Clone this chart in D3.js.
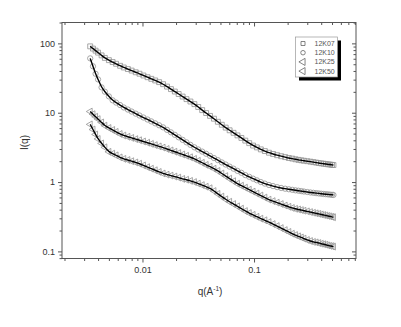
<!DOCTYPE html>
<html>
<head>
<meta charset="utf-8">
<script src="https://cdnjs.cloudflare.com/ajax/libs/d3/7.8.5/d3.min.js"></script>
<style>
  body { margin: 0; background: #fff; }
  svg { display: block; font-family: "Liberation Sans", Arial, sans-serif; }
</style>
</head>
<body>
<script>
// scattering vector, shared by all samples
const q = [0.0034, 0.0036, 0.0038, 0.0040, 0.0043, 0.0046, 0.0050, 0.0054, 0.0058, 0.0063,
  0.0068, 0.0074, 0.0080, 0.0087, 0.0094, 0.0102, 0.0111, 0.0120, 0.0130, 0.0141,
  0.0153, 0.0166, 0.0180, 0.0195, 0.0211, 0.0229, 0.0248, 0.0269, 0.0292, 0.0316,
  0.0343, 0.0372, 0.0403, 0.0437, 0.0474, 0.0514, 0.0557, 0.0604, 0.0655, 0.0710,
  0.0770, 0.0835, 0.0905, 0.098, 0.106, 0.115, 0.125, 0.136, 0.148, 0.161,
  0.175, 0.19, 0.205, 0.22, 0.235, 0.25, 0.265, 0.28, 0.30, 0.32,
  0.34, 0.36, 0.38, 0.40, 0.42, 0.44, 0.46, 0.48, 0.50, 0.515];

// intensities
const i12K07 = [90.6, 84.1, 78.5, 73.6, 67.1, 61.7, 57.3, 53.8, 50.8, 47.5,
  44.9, 42.6, 40.5, 38.3, 36.5, 34.4, 32.5, 30.8, 29.2, 27.6,
  25.8, 23.8, 21.9, 20.2, 18.6, 17.1, 15.7, 14.5, 13.3, 12.1,
  10.9, 9.9, 9.0, 8.2, 7.4, 6.7, 6.1, 5.58, 5.13, 4.71,
  4.33, 3.96, 3.64, 3.36, 3.16, 2.96, 2.80, 2.65, 2.54, 2.44,
  2.36, 2.29, 2.22, 2.18, 2.13, 2.09, 2.06, 2.03, 2.00, 1.97,
  1.94, 1.91, 1.88, 1.86, 1.84, 1.82, 1.80, 1.79, 1.77, 1.76];
const i12K10 = [60.8, 46.7, 36.4, 30.2, 23.2, 20.1, 17.2, 15.1, 14.0, 12.9,
  11.9, 11.1, 10.4, 9.7, 9.12, 8.53, 7.98, 7.50, 7.03, 6.59,
  6.15, 5.66, 5.21, 4.80, 4.42, 4.06, 3.74, 3.44, 3.17, 2.95,
  2.75, 2.56, 2.39, 2.22, 2.07, 1.92, 1.79, 1.67, 1.56, 1.45,
  1.36, 1.26, 1.19, 1.12, 1.06, 1.00, 0.95, 0.908, 0.875, 0.845,
  0.822, 0.802, 0.787, 0.773, 0.760, 0.750, 0.740, 0.730, 0.719, 0.708,
  0.700, 0.692, 0.686, 0.679, 0.673, 0.668, 0.664, 0.659, 0.655, 0.652];
const i12K25 = [10.4, 9.53, 8.75, 8.09, 7.25, 6.52, 6.03, 5.64, 5.30, 4.94,
  4.69, 4.50, 4.33, 4.16, 4.01, 3.85, 3.69, 3.55, 3.41, 3.27,
  3.14, 3.00, 2.86, 2.74, 2.62, 2.50, 2.39, 2.28, 2.16, 2.03,
  1.90, 1.77, 1.67, 1.56, 1.45, 1.33, 1.22, 1.12, 1.03, 0.948,
  0.887, 0.830, 0.777, 0.729, 0.684, 0.640, 0.598, 0.558, 0.531, 0.505,
  0.482, 0.459, 0.440, 0.423, 0.411, 0.403, 0.394, 0.386, 0.378, 0.369,
  0.361, 0.354, 0.348, 0.341, 0.335, 0.330, 0.324, 0.320, 0.315, 0.311];
const i12K50 = [6.79, 5.73, 4.86, 4.19, 3.61, 3.17, 2.73, 2.57, 2.43, 2.27,
  2.16, 2.08, 2.00, 1.92, 1.84, 1.74, 1.64, 1.56, 1.48, 1.40,
  1.33, 1.28, 1.24, 1.20, 1.16, 1.11, 1.08, 1.04, 1.00, 0.951,
  0.904, 0.857, 0.815, 0.743, 0.676, 0.618, 0.564, 0.520, 0.482, 0.447,
  0.414, 0.382, 0.357, 0.337, 0.316, 0.297, 0.281, 0.265, 0.248, 0.232,
  0.217, 0.203, 0.191, 0.180, 0.172, 0.165, 0.159, 0.153, 0.146, 0.141,
  0.137, 0.135, 0.132, 0.129, 0.127, 0.125, 0.122, 0.120, 0.119, 0.117];

const seriesNames = ["12K07", "12K10", "12K25", "12K50"];
const seriesValues = [i12K07, i12K10, i12K25, i12K50];
const xTickValues = [0.01, 0.1];
const xTickLabels = ["0.01", "0.1"];
const yTickValues = [0.1, 1, 10, 100];
const yTickLabels = ["0.1", "1", "10", "100"];

window.onload = function() {
  const w = 401;
  const h = 327;
  const left = 62, right = 356, top = 22.5, bottom = 258.5;

  let svg = d3.select("body")
              .append("svg")
              .attr("width", w)
              .attr("height", h);

  let xScale = d3.scaleLog()
                 .domain([0.0019, 0.82])
                 .range([left, right]);
  let yScale = d3.scaleLog()
                 .domain([0.079, 200])
                 .range([bottom, top]);

  // minor ticks for both log axes
  const xMinor = xScale.ticks().filter(function(t) { return xTickValues.indexOf(t) < 0; });
  const yMinor = yScale.ticks().filter(function(t) { return yTickValues.indexOf(t) < 0; });

  // symbol shapes, triangles are turned to point left
  const shapes = [d3.symbolSquare, d3.symbolCircle, d3.symbolTriangle, d3.symbolTriangle];
  const sizes = [24, 22, 20, 20];
  const turns = [0, 0, -90, -90];

  // clip markers to the frame
  svg.append("clipPath")
     .attr("id", "frame")
     .append("rect")
     .attr("x", left).attr("y", top)
     .attr("width", right - left).attr("height", bottom - top);

  let plot = svg.append("g").attr("clip-path", "url(#frame)");

  // data markers
  seriesValues.forEach(function(values, s) {
    let sym = d3.symbol().type(shapes[s]).size(sizes[s]);
    plot.append("g")
        .selectAll("path")
        .data(q)
        .enter()
        .append("path")
        .attr("d", sym)
        .attr("transform", function(d, i) {
          return "translate(" + xScale(d) + "," + yScale(values[i]) + ") rotate(" + turns[s] + ")";
        })
        .attr("fill", "none")
        .attr("stroke", "#929292")
        .attr("stroke-width", 0.8);
  });

  // fit lines through the points
  let line = d3.line()
               .x(function(d) { return xScale(d[0]); })
               .y(function(d) { return yScale(d[1]); })
               .curve(d3.curveBasis);
  seriesValues.forEach(function(values) {
    let pts = q.map(function(d, i) { return [d, values[i]]; });
    plot.append("path")
        .attr("d", line(pts))
        .attr("fill", "none")
        .attr("stroke", "#000")
        .attr("stroke-width", 1.4);
  });

  // axes, ticks out on left and bottom, in on top and right
  let axisColour = "#555";
  function styleAxis(g) {
    g.select(".domain").remove();
    g.selectAll("line").attr("stroke", axisColour);
    g.selectAll("text")
     .attr("fill", "#333")
     .style("font-size", "9px")
     .style("font-family", "'Liberation Sans', Arial, sans-serif");
  }

  svg.append("g")
     .attr("transform", "translate(0," + bottom + ")")
     .call(d3.axisBottom(xScale).tickValues(xTickValues)
             .tickFormat(function(d, i) { return xTickLabels[i]; })
             .tickSize(4).tickPadding(4))
     .call(styleAxis);
  svg.append("g")
     .attr("transform", "translate(0," + bottom + ")")
     .call(d3.axisBottom(xScale).tickValues(xMinor).tickFormat("").tickSize(2.5))
     .call(styleAxis);
  svg.append("g")
     .attr("transform", "translate(0," + top + ")")
     .call(d3.axisBottom(xScale).tickValues(xTickValues).tickFormat("").tickSize(4))
     .call(styleAxis);
  svg.append("g")
     .attr("transform", "translate(0," + top + ")")
     .call(d3.axisBottom(xScale).tickValues(xMinor).tickFormat("").tickSize(2.5))
     .call(styleAxis);

  svg.append("g")
     .attr("transform", "translate(" + left + ",0)")
     .call(d3.axisLeft(yScale).tickValues(yTickValues)
             .tickFormat(function(d, i) { return yTickLabels[i]; })
             .tickSize(4).tickPadding(3))
     .call(styleAxis);
  svg.append("g")
     .attr("transform", "translate(" + left + ",0)")
     .call(d3.axisLeft(yScale).tickValues(yMinor).tickFormat("").tickSize(2.5))
     .call(styleAxis);
  svg.append("g")
     .attr("transform", "translate(" + right + ",0)")
     .call(d3.axisLeft(yScale).tickValues(yTickValues).tickFormat("").tickSize(4))
     .call(styleAxis);
  svg.append("g")
     .attr("transform", "translate(" + right + ",0)")
     .call(d3.axisLeft(yScale).tickValues(yMinor).tickFormat("").tickSize(2.5))
     .call(styleAxis);

  // frame
  svg.append("rect")
     .attr("x", left).attr("y", top)
     .attr("width", right - left).attr("height", bottom - top)
     .attr("fill", "none")
     .attr("stroke", axisColour)
     .attr("stroke-width", 1);

  // axis titles
  let xTitle = svg.append("text")
     .attr("x", (left + right) / 2 + 1)
     .attr("y", 295)
     .attr("text-anchor", "middle")
     .attr("fill", "#333")
     .style("font-size", "10px")
     .text("q(A");
  xTitle.append("tspan")
        .attr("dy", -4)
        .style("font-size", "6.5px")
        .text("-1");
  xTitle.append("tspan")
        .attr("dy", 4)
        .text(")");

  svg.append("text")
     .attr("transform", "translate(28," + ((top + bottom) / 2 + 2) + ") rotate(-90)")
     .attr("text-anchor", "middle")
     .attr("fill", "#333")
     .style("font-size", "10px")
     .text("I(q)");

  // legend with drop shadow
  const lx = 295.5, ly = 37, lw = 42, lh = 40;
  svg.append("rect")
     .attr("x", lx + 3.5).attr("y", ly + 3.5)
     .attr("width", lw).attr("height", lh)
     .attr("fill", "#000");
  svg.append("rect")
     .attr("x", lx).attr("y", ly)
     .attr("width", lw).attr("height", lh)
     .attr("fill", "#fff")
     .attr("stroke", "#999")
     .attr("stroke-width", 0.7);

  let legend = svg.append("g").attr("class", "legend");
  legend.selectAll("path")
        .data(seriesNames)
        .enter()
        .append("path")
        .attr("d", function(d, i) { return d3.symbol().type(shapes[i]).size(i < 2 ? 16 : 22)(); })
        .attr("transform", function(d, i) {
          return "translate(" + (lx + 7.5) + "," + (ly + 6.5 + i * 9.2) + ") rotate(" + turns[i] + ")";
        })
        .attr("fill", "none")
        .attr("stroke", "#666")
        .attr("stroke-width", 0.8);
  legend.selectAll("text")
        .data(seriesNames)
        .enter()
        .append("text")
        .attr("x", lx + 19)
        .attr("y", function(d, i) { return ly + 9 + i * 9.2; })
        .attr("fill", "#555")
        .style("font-size", "7px")
        .text(function(d) { return d; });
};
</script>
</body>
</html>
